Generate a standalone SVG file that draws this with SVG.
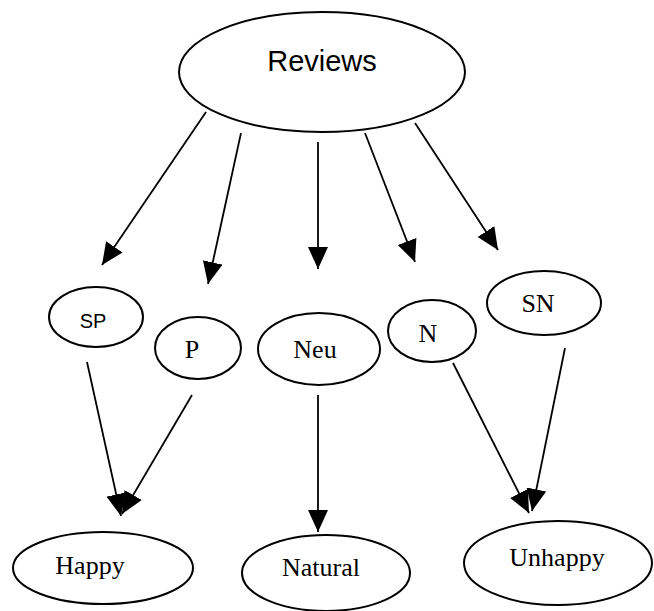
<svg xmlns="http://www.w3.org/2000/svg" width="654" height="611" viewBox="0 0 654 611">
<defs>
<marker id="ah" markerUnits="userSpaceOnUse" markerWidth="22" markerHeight="20" refX="22" refY="10" orient="auto">
<path d="M0,0 L22,10 L0,20 z" fill="#000"/>
</marker>
<style>
.n{fill:#fff;stroke:#000;stroke-width:2}
.t{font-family:"Liberation Serif","Times New Roman",serif;font-size:26px;text-anchor:middle;fill:#000}
.s{font-family:"Liberation Sans",Arial,sans-serif;text-anchor:middle;fill:#000}
.e line{stroke:#000;stroke-width:1.8;marker-end:url(#ah)}
</style>
</defs>
<rect width="654" height="611" fill="#fff"/>
<g id="reviews"><ellipse class="n" cx="322" cy="72" rx="143" ry="60"/><text class="s" x="322" y="71" font-size="29">Reviews</text></g>
<g id="sp"><ellipse class="n" cx="96" cy="317" rx="47" ry="30"/><text class="s" x="93" y="328" font-size="20">SP</text></g>
<g id="p"><ellipse class="n" cx="198" cy="348" rx="43" ry="31"/><text class="t" x="192" y="358">P</text></g>
<g id="neu"><ellipse class="n" cx="319" cy="349" rx="61" ry="36"/><text class="t" x="315" y="358">Neu</text></g>
<g id="n"><ellipse class="n" cx="432" cy="331" rx="44" ry="31"/><text class="t" x="428" y="342">N</text></g>
<g id="sn"><ellipse class="n" cx="544" cy="303" rx="57" ry="32"/><text class="t" x="538" y="312">SN</text></g>
<g id="happy"><ellipse class="n" cx="103" cy="568" rx="90" ry="36"/><text class="t" x="90" y="574">Happy</text></g>
<g id="natural"><ellipse class="n" cx="326" cy="573" rx="84" ry="38"/><text class="t" x="321" y="576">Natural</text></g>
<g id="unhappy"><ellipse class="n" cx="558" cy="563" rx="94" ry="42"/><text class="t" x="557" y="566">Unhappy</text></g>
<g id="connectors" class="e">
<line x1="206" y1="112" x2="102" y2="265"/>
<line x1="241" y1="133" x2="208" y2="284"/>
<line x1="318" y1="142" x2="318" y2="269"/>
<line x1="365" y1="133" x2="415" y2="262"/>
<line x1="415" y1="123" x2="498" y2="250"/>
<line x1="87" y1="362" x2="121" y2="516"/>
<line x1="192" y1="395" x2="122" y2="514"/>
<line x1="318" y1="395" x2="318" y2="532"/>
<line x1="453" y1="363" x2="529" y2="513"/>
<line x1="565" y1="348" x2="532" y2="511"/>
</g>
</svg>
